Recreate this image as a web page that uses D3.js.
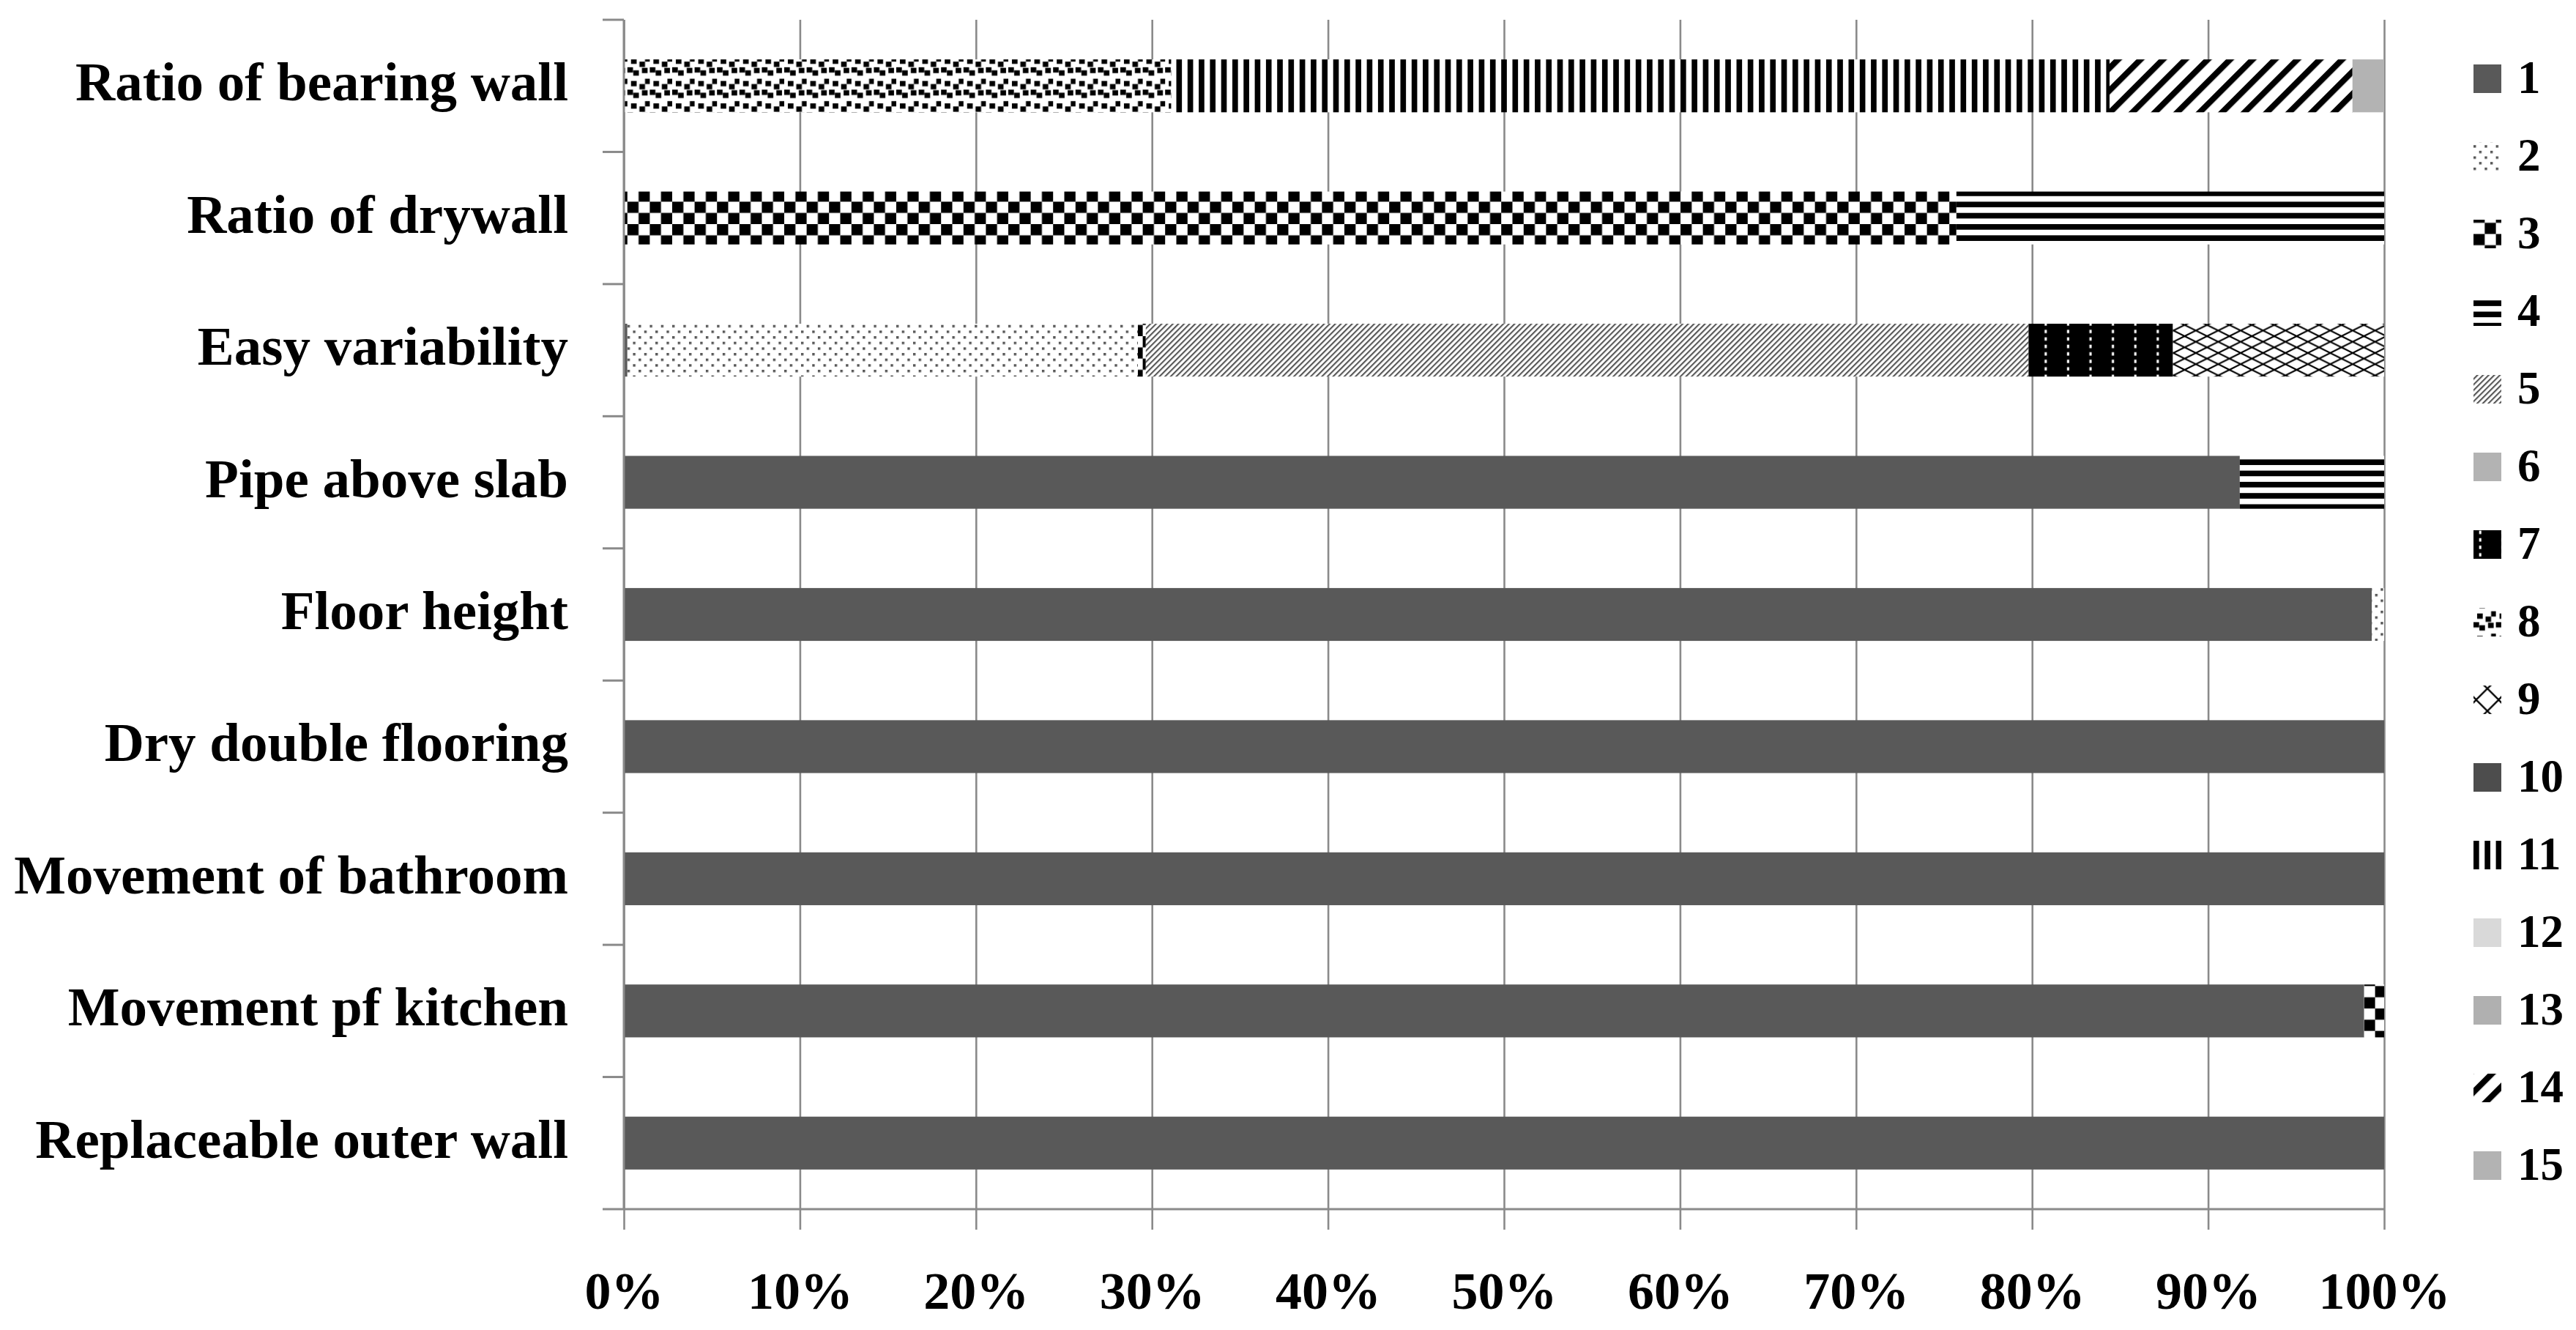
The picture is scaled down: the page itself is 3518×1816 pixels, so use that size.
<!DOCTYPE html>
<html>
<head>
<meta charset="utf-8">
<script src="https://cdn.jsdelivr.net/npm/d3@7/dist/d3.min.js"></script>
<style>
  body { margin: 0; background: #fff; }
  text { font-family: "Book Antiqua", "Palatino Linotype", "Liberation Serif", serif; font-weight: bold; fill: #000; }
</style>
</head>
<body>
<script>
// categories, top to bottom
const categories = [
  "Ratio of bearing wall",
  "Ratio of drywall",
  "Easy variability",
  "Pipe above slab",
  "Floor height",
  "Dry double flooring",
  "Movement of bathroom",
  "Movement pf kitchen",
  "Replaceable outer wall"
];
const seriesKeys = ["1","2","3","4","5","6","7","8","9","10","11","12","13","14","15"];

// share (%) of series 1..15 in each category
const bearingWall   = [0, 0, 0, 0, 0, 0, 0, 31.1, 0, 0, 53.3, 0, 0, 13.8, 1.8];
const drywall       = [0, 0, 75.7, 24.3, 0, 0, 0, 0, 0, 0, 0, 0, 0, 0, 0];
const variability   = [0.2, 29.0, 0.45, 0, 50.15, 0, 8.2, 0, 12.0, 0, 0, 0, 0, 0, 0];
const pipeSlab      = [91.8, 0, 0, 8.2, 0, 0, 0, 0, 0, 0, 0, 0, 0, 0, 0];
const floorHeight   = [99.3, 0.7, 0, 0, 0, 0, 0, 0, 0, 0, 0, 0, 0, 0, 0];
const dryFlooring   = [100, 0, 0, 0, 0, 0, 0, 0, 0, 0, 0, 0, 0, 0, 0];
const bathroom      = [100, 0, 0, 0, 0, 0, 0, 0, 0, 0, 0, 0, 0, 0, 0];
const kitchen       = [98.85, 0, 1.15, 0, 0, 0, 0, 0, 0, 0, 0, 0, 0, 0, 0];
const outerWall     = [100, 0, 0, 0, 0, 0, 0, 0, 0, 0, 0, 0, 0, 0, 0];

const xTicks = [0, 10, 20, 30, 40, 50, 60, 70, 80, 90, 100];

const rows = [bearingWall, drywall, variability, pipeSlab, floorHeight, dryFlooring, bathroom, kitchen, outerWall];
const table = categories.map((c, i) => {
  const o = { category: c };
  seriesKeys.forEach((k, j) => o[k] = rows[i][j]);
  return o;
});

const width = 3518, height = 1816;
const plotTop = 27, plotBottom = 1651, plotLeft = 852, plotRight = 3256;

var svg = d3.select("body")
  .append("svg")
  .attr("width", width)
  .attr("height", height);

svg.append("rect").attr("width", width).attr("height", height).attr("fill", "#fff");

const x = d3.scaleLinear().domain([0, 100]).range([plotLeft, plotRight]);
const y = d3.scaleBand().domain(categories).range([plotTop, plotBottom])
  .paddingInner(0.6).paddingOuter(0.3);

// ---- fill patterns (Excel style, 8x8 cells) ----
const u = 3.825;
const defs = svg.append("defs");

function pattern(id, w, h, bg) {
  const p = defs.append("pattern")
    .attr("id", id)
    .attr("patternUnits", "userSpaceOnUse")
    .attr("width", w)
    .attr("height", h);
  p.append("rect").attr("width", w).attr("height", h).attr("fill", bg);
  return p;
}

// 2: sparse gray dots
let p = pattern("p2", 4 * u, 4 * u, "#fff");
[[0, 0], [2 * u, 2 * u]].forEach(d => p.append("rect").attr("x", d[0]).attr("y", d[1]).attr("width", 3.4).attr("height", 3.4).attr("fill", "#555"));

// 3: large checkerboard
p = pattern("p3", 8 * u, 8 * u, "#fff");
[[0, 0], [4 * u, 4 * u]].forEach(d => p.append("rect").attr("x", d[0]).attr("y", d[1]).attr("width", 4 * u).attr("height", 4 * u).attr("fill", "#000"));

// 4: wide horizontal stripes
p = pattern("p4", 8 * u, 4 * u, "#fff");
p.append("rect").attr("width", 8 * u).attr("height", 2 * u).attr("fill", "#000");

// 5: light upward diagonal (gray)
p = pattern("p5", 2 * u / Math.SQRT2, 8, "#fff").attr("patternTransform", "rotate(45)");
p.append("rect").attr("width", 2.1).attr("height", 8).attr("fill", "#555");

// 7: black with small white dots
p = pattern("p7", 8 * u, 8 * u / 3, "#000");
p.append("rect").attr("x", 2 * u).attr("y", 0.4 * u).attr("width", 0.8 * u).attr("height", 1.2 * u).attr("fill", "#fff");

// 8: staggered small squares (zigzag)
p = pattern("p8", 8 * u, 8 * u, "#fff");
[[0, 0], [2.1, 1.1], [5.2, 0.2], [1.3, 4.9], [4.3, 6], [6.3, 4.1]].forEach(d =>
  p.append("rect").attr("x", d[0] * u).attr("y", d[1] * u).attr("width", 2 * u).attr("height", 1.9 * u).attr("fill", "#000"));

// 9: outlined diamond lattice
p = pattern("p9", 8 * u, 4 * u, "#fff");
p.append("path").attr("d", `M0,${2 * u}L${4 * u},0L${8 * u},${2 * u}L${4 * u},${4 * u}Z`)
  .attr("fill", "none").attr("stroke", "#000").attr("stroke-width", 2.2);

// 9 (legend swatch): one diamond centred in the swatch
p = pattern("p9l", 8 * u, 8 * u, "#fff").attr("x", 19 - 4 * u).attr("y", -4 * u);
p.append("path").attr("d", `M0,${4 * u}L${4 * u},0L${8 * u},${4 * u}L${4 * u},${8 * u}Z`)
  .attr("fill", "none").attr("stroke", "#000").attr("stroke-width", 2.4);

// 11: wide vertical stripes
p = pattern("p11", 4 * u, 8 * u, "#fff");
p.append("rect").attr("width", 2 * u).attr("height", 8 * u).attr("fill", "#000");

// 14: wide upward diagonal
p = pattern("p14", 8 * u / Math.SQRT2, 10, "#fff").attr("patternTransform", "rotate(45)");
p.append("rect").attr("width", 3 * u / Math.SQRT2).attr("height", 10).attr("fill", "#000");

const fills = {
  "1": "#595959", "2": "url(#p2)", "3": "url(#p3)", "4": "url(#p4)", "5": "url(#p5)",
  "6": "#b3b3b3", "7": "url(#p7)", "8": "url(#p8)", "9": "url(#p9)", "10": "#4d4d4d",
  "11": "url(#p11)", "12": "#d9d9d9", "13": "#b0b0b0", "14": "url(#p14)", "15": "#b3b3b3"
};
const legendFills = Object.assign({}, fills, { "9": "url(#p9l)" });

// ---- gridlines + x axis ----
const xAxisGroup = svg.append("g")
  .attr("class", "x axis")
  .attr("transform", `translate(0,${plotBottom + 28})`)
  .call(d3.axisBottom(x).tickValues(xTicks).tickSize(-(plotBottom + 28 - plotTop)).tickFormat(d => d + "%"));
xAxisGroup.select(".domain").remove();
xAxisGroup.selectAll("line").attr("stroke", "#8a8a8a").attr("stroke-width", 2.6);
xAxisGroup.selectAll("text")
  .attr("y", 108).attr("dy", 0)
  .attr("font-size", 72)
  .attr("font-family", null);

// ---- bars ----
const stacked = d3.stack().keys(seriesKeys)(table);
const seriesGroup = svg.selectAll(".series")
  .data(stacked).enter().append("g")
  .attr("class", "series")
  .attr("fill", d => fills[d.key]);

seriesGroup.selectAll("rect")
  .data(d => d.filter(s => s[1] - s[0] > 0))
  .enter().append("rect")
  .attr("x", d => x(d[0]))
  .attr("y", d => y(d.data.category))
  .attr("width", d => x(d[1]) - x(d[0]))
  .attr("height", y.bandwidth());

// ---- axis lines ----
svg.append("line")
  .attr("x1", plotLeft).attr("x2", plotLeft)
  .attr("y1", plotTop).attr("y2", plotBottom)
  .attr("stroke", "#8a8a8a").attr("stroke-width", 3);
svg.append("line")
  .attr("x1", plotLeft - 29).attr("x2", plotRight)
  .attr("y1", plotBottom).attr("y2", plotBottom)
  .attr("stroke", "#8a8a8a").attr("stroke-width", 3);

// y ticks at category boundaries
svg.selectAll(".ytick")
  .data(d3.range(categories.length))
  .enter().append("line")
  .attr("class", "ytick")
  .attr("x1", plotLeft - 29).attr("x2", plotLeft)
  .attr("y1", i => plotTop + i * y.step())
  .attr("y2", i => plotTop + i * y.step())
  .attr("stroke", "#8a8a8a").attr("stroke-width", 3);

// category labels
svg.selectAll(".catLabel")
  .data(categories)
  .enter().append("text")
  .attr("class", "catLabel")
  .attr("x", 776)
  .attr("y", d => y(d) + y.bandwidth() / 2 + 20)
  .attr("text-anchor", "end")
  .attr("font-size", 75)
  .text(d => d);

// ---- legend ----
const legend = svg.selectAll(".legendItem")
  .data(seriesKeys)
  .enter().append("g")
  .attr("class", "legendItem")
  .attr("transform", (d, i) => `translate(3378,${107.5 + i * 106})`);

legend.append("rect")
  .attr("x", 0).attr("y", -19.5)
  .attr("width", 38).attr("height", 39)
  .attr("fill", d => legendFills[d]);

legend.append("text")
  .attr("x", 60).attr("y", 19)
  .attr("font-size", 63)
  .text(d => d);
</script>
</body>
</html>
